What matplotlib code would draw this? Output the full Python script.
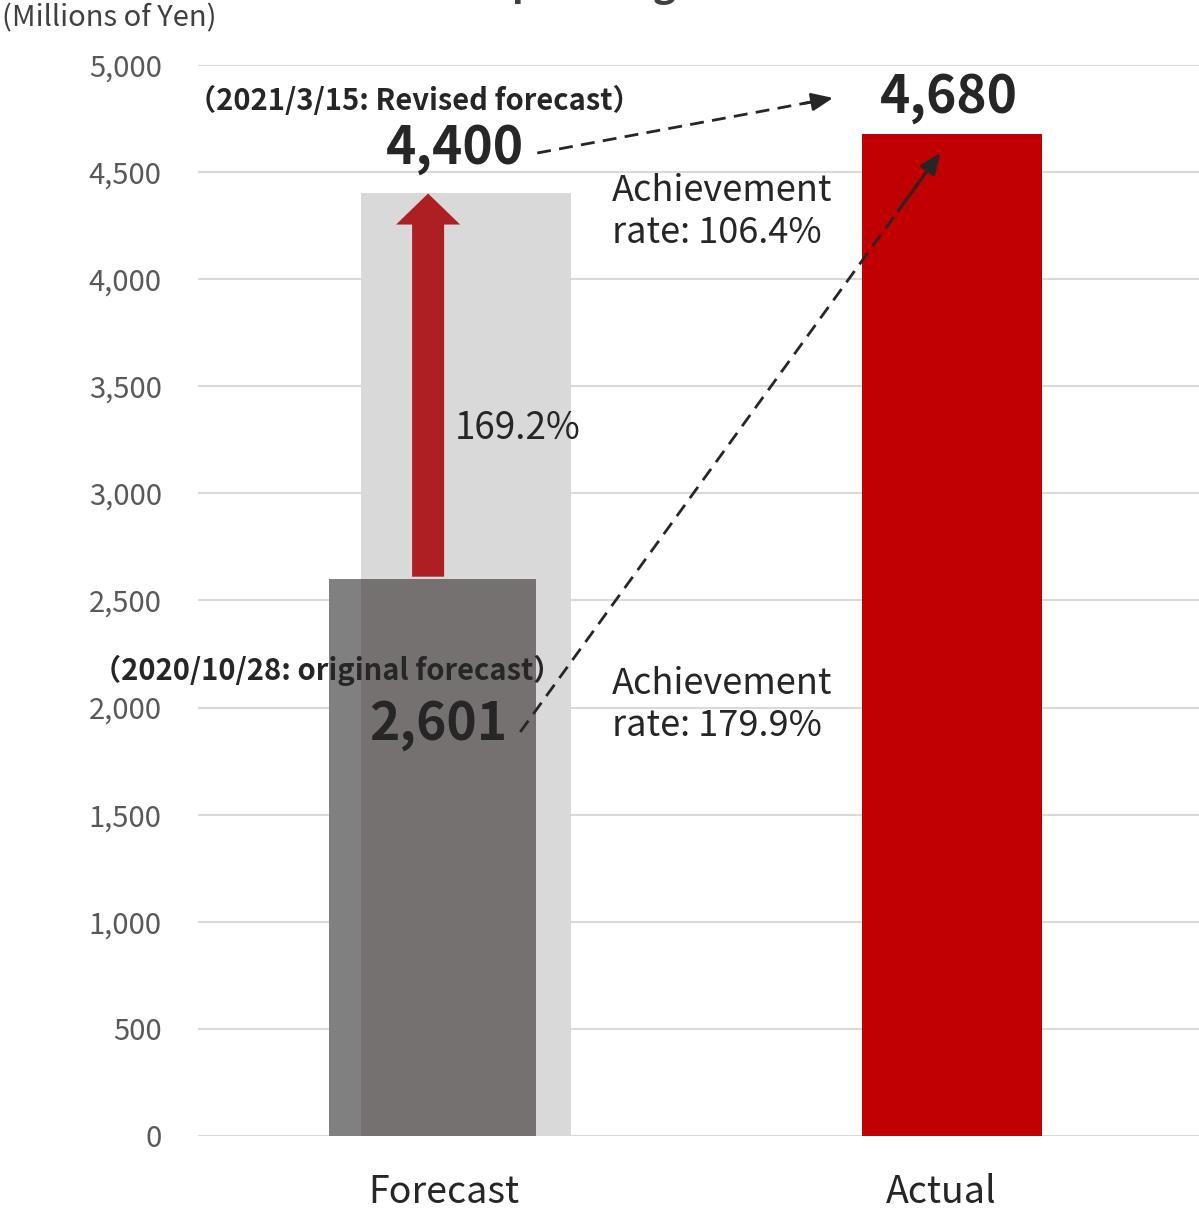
import matplotlib.pyplot as plt
from matplotlib.patches import FancyArrow

plt.rcParams['font.family'] = ['Noto Sans CJK JP', 'DejaVu Sans']

categories = ['Forecast', 'Actual']
original_forecast = 2601
revised_forecast = 4400
actual = 4680
growth_rate = '169.2%'
rate_vs_revised = '106.4%'
rate_vs_original = '179.9%'
yticks = list(range(0, 5001, 500))

DARK = '#262626'

fig = plt.figure(figsize=(11.99, 12.10), dpi=100)
ax = fig.add_axes([0.165, 0.0612, 0.835, 0.8851])

# revised forecast (back), original forecast (front), actual
ax.bar(0.036, revised_forecast, width=0.42, color='#d9d9d9', zorder=2)
ax.bar(-0.031, original_forecast, width=0.414, color='#808080', zorder=3)
ax.bar(0.0, original_forecast, width=0.35, color='#767171', zorder=4)
ax.bar(1.006, actual, width=0.36, color='#c00000', zorder=2)

# upward arrow from the original to the revised forecast
head_len = 145
ax.add_patch(FancyArrow(-0.04, original_forecast + 10, 0,
                        revised_forecast - original_forecast - 10 - head_len,
                        width=0.064, head_width=0.128, head_length=head_len,
                        length_includes_head=False, color='#ae1f24', lw=0, zorder=5))

ax.set_xlim(-0.5, 1.5)
ax.set_ylim(0, 5000)
ax.set_yticks(yticks)
ax.set_yticklabels([f'{v:,}' for v in yticks])
ax.set_xticks([-0.008, 0.986])
ax.set_xticklabels(categories)
ax.tick_params(axis='y', length=0, pad=26, labelsize=21, labelcolor='#595959')
ax.tick_params(axis='x', length=0, pad=27, labelsize=27, labelcolor=DARK)
for s in ax.spines.values():
    s.set_visible(False)
ax.grid(axis='y', color='#d9d9d9', lw=1.5, zorder=0)
ax.set_axisbelow(True)

fig.text(0.002, 0.985, '(Millions of Yen)', fontsize=21, color='#404040',
         ha='left', va='center')
fig.text(0.546, 1.003, 'Operating Income', fontsize=28, fontweight='bold',
         color='#404040', ha='center', va='baseline')

# value labels
ax.text(-0.068, 4832, '（2021/3/15: Revised forecast）', fontsize=21,
        fontweight='bold', color=DARK, ha='center', va='center', zorder=6)
ax.text(0.014, 4612, f'{revised_forecast:,}', fontsize=37, fontweight='bold',
        color=DARK, ha='center', va='center', zorder=6)
ax.text(1.0, 4846, f'{actual:,}', fontsize=37, fontweight='bold',
        color=DARK, ha='center', va='center', zorder=6)
ax.text(-0.242, 2175, '（2020/10/28: original forecast）', fontsize=21,
        fontweight='bold', color=DARK, ha='center', va='center', zorder=6)
ax.text(-0.02, 1919, f'{original_forecast:,}', fontsize=37, fontweight='bold',
        color=DARK, ha='center', va='center', zorder=6)
ax.text(0.014, 3305, growth_rate, fontsize=26.5, color=DARK,
        ha='left', va='center', zorder=6)
ax.text(0.328, 4314, f'Achievement\nrate: {rate_vs_revised}', fontsize=26,
        color=DARK, ha='left', va='center', linespacing=1.22, zorder=6)
ax.text(0.328, 2012, f'Achievement\nrate: {rate_vs_original}', fontsize=26,
        color=DARK, ha='left', va='center', linespacing=1.22, zorder=6)

# dashed connectors with solid heads
for (x0, y0), (x1, y1) in [((0.178, 4589), (0.769, 4846)),
                           ((0.144, 1886), (0.983, 4589))]:
    ax.plot([x0, x0 + (x1 - x0) * 0.95], [y0, y0 + (y1 - y0) * 0.95],
            ls=(0, (5, 3)), color=DARK, lw=2, zorder=7)
    ax.annotate('', xy=(x1, y1),
                xytext=(x0 + (x1 - x0) * 0.9, y0 + (y1 - y0) * 0.9),
                arrowprops=dict(arrowstyle='-|>,head_length=1.3,head_width=0.55',
                                color=DARK, lw=2, shrinkA=0, shrinkB=0),
                zorder=7)

fig.savefig('out.png', dpi=100)
